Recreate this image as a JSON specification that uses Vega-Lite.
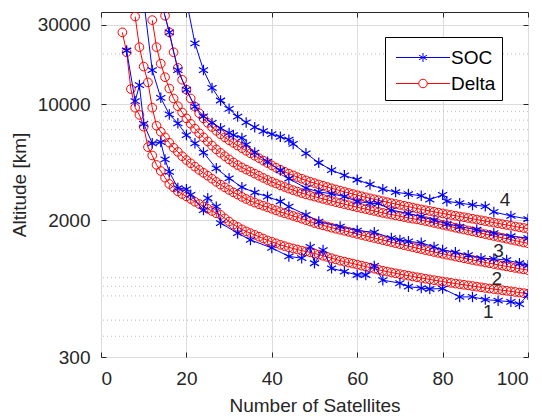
{
  "$schema": "https://vega.github.io/schema/vega-lite/v6.json",
  "width": 427,
  "height": 345,
  "autosize": "none",
  "padding": {"left": 101, "top": 12, "right": 14, "bottom": 62},
  "config": {
    "font": "Liberation Sans",
    "view": {"stroke": "#262626", "strokeWidth": 1},
    "axis": {
      "labelFont": "Liberation Sans",
      "labelFontSize": 19,
      "labelColor": "#262626",
      "titleFont": "Liberation Sans",
      "titleFontSize": 19,
      "titleFontWeight": "normal",
      "titleColor": "#262626",
      "domain": false,
      "tickColor": "#262626",
      "tickSize": -5,
      "gridColor": "#dcdcdc",
      "gridWidth": 1
    },
    "legend": {
      "orient": "none", "legendX": 284, "legendY": 25,
      "titleFontSize": 1, "titlePadding": 4,
      "fillColor": "#ffffff", "strokeColor": "#000000", "padding": 6,
      "symbolSize": 81, "symbolStrokeWidth": 1, "labelOffset": 41, "rowPadding": 6,
      "labelFont": "Liberation Sans", "labelFontSize": 19, "labelColor": "#000000",
      "symbolFillColor": "transparent"
    }
  },
  "datasets": {
    "minor": [
      {"v": 400}, {"v": 500}, {"v": 700}, {"v": 800}, {"v": 900},
      {"v": 3000}, {"v": 4000}, {"v": 5000}, {"v": 6000}, {"v": 7000}, {"v": 8000}, {"v": 9000}, {"v": 20000}
    ],
    "labels": [
      {"t": "1", "x": 90.7, "y": 563},
      {"t": "2", "x": 92.7, "y": 887},
      {"t": "3", "x": 93.1, "y": 1306},
      {"t": "4", "x": 94.6, "y": 2660}
    ],
    "pts": [
      {"m":"Delta","c":1,"x":5,"y":27000},{"m":"Delta","c":1,"x":6,"y":20500},{"m":"Delta","c":1,"x":7,"y":12300},{"m":"Delta","c":1,"x":8,"y":9500},{"m":"Delta","c":1,"x":9,"y":8600},{"m":"Delta","c":1,"x":10,"y":7300},{"m":"Delta","c":1,"x":11,"y":5500},{"m":"Delta","c":1,"x":12,"y":4900},{"m":"Delta","c":1,"x":13,"y":4300},{"m":"Delta","c":1,"x":14,"y":3950},{"m":"Delta","c":1,"x":15,"y":3600},{"m":"Delta","c":1,"x":16,"y":3300},{"m":"Delta","c":1,"x":17,"y":3150},{"m":"Delta","c":1,"x":18,"y":2980},{"m":"Delta","c":1,"x":19,"y":2870},{"m":"Delta","c":1,"x":20,"y":2780},{"m":"Delta","c":1,"x":21,"y":2680},{"m":"Delta","c":1,"x":22,"y":2580},{"m":"Delta","c":1,"x":23,"y":2500},{"m":"Delta","c":1,"x":24,"y":2420},{"m":"Delta","c":1,"x":25,"y":2340},{"m":"Delta","c":1,"x":26,"y":2270},{"m":"Delta","c":1,"x":27,"y":2200},{"m":"Delta","c":1,"x":28,"y":2150},{"m":"Delta","c":1,"x":29,"y":2050},{"m":"Delta","c":1,"x":30,"y":1960},{"m":"Delta","c":1,"x":31,"y":1880},{"m":"Delta","c":1,"x":32,"y":1820},{"m":"Delta","c":1,"x":33,"y":1760},{"m":"Delta","c":1,"x":34,"y":1710},{"m":"Delta","c":1,"x":35,"y":1670},{"m":"Delta","c":1,"x":36,"y":1630},{"m":"Delta","c":1,"x":37,"y":1590},{"m":"Delta","c":1,"x":38,"y":1550},{"m":"Delta","c":1,"x":39,"y":1510},{"m":"Delta","c":1,"x":40,"y":1480},{"m":"Delta","c":1,"x":41,"y":1450},{"m":"Delta","c":1,"x":42,"y":1420},{"m":"Delta","c":1,"x":43,"y":1395},{"m":"Delta","c":1,"x":44,"y":1370},{"m":"Delta","c":1,"x":45,"y":1350},{"m":"Delta","c":1,"x":46,"y":1330},{"m":"Delta","c":1,"x":47,"y":1310},{"m":"Delta","c":1,"x":48,"y":1295},{"m":"Delta","c":1,"x":49,"y":1280},{"m":"Delta","c":1,"x":50,"y":1260},{"m":"Delta","c":1,"x":51,"y":1240},{"m":"Delta","c":1,"x":52,"y":1220},{"m":"Delta","c":1,"x":53,"y":1200},{"m":"Delta","c":1,"x":54,"y":1180},{"m":"Delta","c":1,"x":55,"y":1160},{"m":"Delta","c":1,"x":56,"y":1140},{"m":"Delta","c":1,"x":57,"y":1125},{"m":"Delta","c":1,"x":58,"y":1110},{"m":"Delta","c":1,"x":59,"y":1095},{"m":"Delta","c":1,"x":60,"y":1080},{"m":"Delta","c":1,"x":61,"y":1065},{"m":"Delta","c":1,"x":62,"y":1050},{"m":"Delta","c":1,"x":63,"y":1035},{"m":"Delta","c":1,"x":64,"y":1020},{"m":"Delta","c":1,"x":65,"y":1005},{"m":"Delta","c":1,"x":66,"y":992},{"m":"Delta","c":1,"x":67,"y":980},{"m":"Delta","c":1,"x":68,"y":968},{"m":"Delta","c":1,"x":69,"y":957},{"m":"Delta","c":1,"x":70,"y":946},{"m":"Delta","c":1,"x":71,"y":936},{"m":"Delta","c":1,"x":72,"y":926},{"m":"Delta","c":1,"x":73,"y":916},{"m":"Delta","c":1,"x":74,"y":906},{"m":"Delta","c":1,"x":75,"y":897},{"m":"Delta","c":1,"x":76,"y":888},{"m":"Delta","c":1,"x":77,"y":879},{"m":"Delta","c":1,"x":78,"y":870},{"m":"Delta","c":1,"x":79,"y":862},{"m":"Delta","c":1,"x":80,"y":854},{"m":"Delta","c":1,"x":81,"y":846},{"m":"Delta","c":1,"x":82,"y":838},{"m":"Delta","c":1,"x":83,"y":830},{"m":"Delta","c":1,"x":84,"y":823},{"m":"Delta","c":1,"x":85,"y":816},{"m":"Delta","c":1,"x":86,"y":809},{"m":"Delta","c":1,"x":87,"y":802},{"m":"Delta","c":1,"x":88,"y":795},{"m":"Delta","c":1,"x":89,"y":788},{"m":"Delta","c":1,"x":90,"y":781},{"m":"Delta","c":1,"x":91,"y":775},{"m":"Delta","c":1,"x":92,"y":769},{"m":"Delta","c":1,"x":93,"y":763},{"m":"Delta","c":1,"x":94,"y":757},{"m":"Delta","c":1,"x":95,"y":751},{"m":"Delta","c":1,"x":96,"y":745},{"m":"Delta","c":1,"x":97,"y":739},{"m":"Delta","c":1,"x":98,"y":733},{"m":"Delta","c":1,"x":99,"y":727},{"m":"Delta","c":1,"x":100,"y":722},
      {"m":"Delta","c":2,"x":8,"y":33600},{"m":"Delta","c":2,"x":9,"y":22000},{"m":"Delta","c":2,"x":10,"y":16800},{"m":"Delta","c":2,"x":11,"y":13500},{"m":"Delta","c":2,"x":12,"y":9500},{"m":"Delta","c":2,"x":13,"y":7400},{"m":"Delta","c":2,"x":14,"y":6800},{"m":"Delta","c":2,"x":15,"y":6300},{"m":"Delta","c":2,"x":16,"y":5850},{"m":"Delta","c":2,"x":17,"y":5450},{"m":"Delta","c":2,"x":18,"y":5150},{"m":"Delta","c":2,"x":19,"y":4850},{"m":"Delta","c":2,"x":20,"y":4600},{"m":"Delta","c":2,"x":21,"y":4400},{"m":"Delta","c":2,"x":22,"y":4200},{"m":"Delta","c":2,"x":23,"y":4010},{"m":"Delta","c":2,"x":24,"y":3850},{"m":"Delta","c":2,"x":25,"y":3700},{"m":"Delta","c":2,"x":26,"y":3550},{"m":"Delta","c":2,"x":27,"y":3400},{"m":"Delta","c":2,"x":28,"y":3270},{"m":"Delta","c":2,"x":29,"y":3150},{"m":"Delta","c":2,"x":30,"y":3040},{"m":"Delta","c":2,"x":31,"y":2940},{"m":"Delta","c":2,"x":32,"y":2850},{"m":"Delta","c":2,"x":33,"y":2760},{"m":"Delta","c":2,"x":34,"y":2680},{"m":"Delta","c":2,"x":35,"y":2610},{"m":"Delta","c":2,"x":36,"y":2550},{"m":"Delta","c":2,"x":37,"y":2490},{"m":"Delta","c":2,"x":38,"y":2440},{"m":"Delta","c":2,"x":39,"y":2390},{"m":"Delta","c":2,"x":40,"y":2340},{"m":"Delta","c":2,"x":41,"y":2290},{"m":"Delta","c":2,"x":42,"y":2240},{"m":"Delta","c":2,"x":43,"y":2200},{"m":"Delta","c":2,"x":44,"y":2160},{"m":"Delta","c":2,"x":45,"y":2120},{"m":"Delta","c":2,"x":46,"y":2080},{"m":"Delta","c":2,"x":47,"y":2040},{"m":"Delta","c":2,"x":48,"y":2000},{"m":"Delta","c":2,"x":49,"y":1960},{"m":"Delta","c":2,"x":50,"y":1920},{"m":"Delta","c":2,"x":51,"y":1890},{"m":"Delta","c":2,"x":52,"y":1860},{"m":"Delta","c":2,"x":53,"y":1830},{"m":"Delta","c":2,"x":54,"y":1800},{"m":"Delta","c":2,"x":55,"y":1775},{"m":"Delta","c":2,"x":56,"y":1750},{"m":"Delta","c":2,"x":57,"y":1725},{"m":"Delta","c":2,"x":58,"y":1700},{"m":"Delta","c":2,"x":59,"y":1676},{"m":"Delta","c":2,"x":60,"y":1652},{"m":"Delta","c":2,"x":61,"y":1628},{"m":"Delta","c":2,"x":62,"y":1605},{"m":"Delta","c":2,"x":63,"y":1582},{"m":"Delta","c":2,"x":64,"y":1560},{"m":"Delta","c":2,"x":65,"y":1538},{"m":"Delta","c":2,"x":66,"y":1516},{"m":"Delta","c":2,"x":67,"y":1495},{"m":"Delta","c":2,"x":68,"y":1474},{"m":"Delta","c":2,"x":69,"y":1453},{"m":"Delta","c":2,"x":70,"y":1433},{"m":"Delta","c":2,"x":71,"y":1413},{"m":"Delta","c":2,"x":72,"y":1394},{"m":"Delta","c":2,"x":73,"y":1375},{"m":"Delta","c":2,"x":74,"y":1356},{"m":"Delta","c":2,"x":75,"y":1338},{"m":"Delta","c":2,"x":76,"y":1320},{"m":"Delta","c":2,"x":77,"y":1303},{"m":"Delta","c":2,"x":78,"y":1286},{"m":"Delta","c":2,"x":79,"y":1270},{"m":"Delta","c":2,"x":80,"y":1254},{"m":"Delta","c":2,"x":81,"y":1238},{"m":"Delta","c":2,"x":82,"y":1223},{"m":"Delta","c":2,"x":83,"y":1208},{"m":"Delta","c":2,"x":84,"y":1193},{"m":"Delta","c":2,"x":85,"y":1179},{"m":"Delta","c":2,"x":86,"y":1165},{"m":"Delta","c":2,"x":87,"y":1151},{"m":"Delta","c":2,"x":88,"y":1138},{"m":"Delta","c":2,"x":89,"y":1125},{"m":"Delta","c":2,"x":90,"y":1112},{"m":"Delta","c":2,"x":91,"y":1100},{"m":"Delta","c":2,"x":92,"y":1088},{"m":"Delta","c":2,"x":93,"y":1076},{"m":"Delta","c":2,"x":94,"y":1064},{"m":"Delta","c":2,"x":95,"y":1053},{"m":"Delta","c":2,"x":96,"y":1042},{"m":"Delta","c":2,"x":97,"y":1031},{"m":"Delta","c":2,"x":98,"y":1020},{"m":"Delta","c":2,"x":99,"y":1010},{"m":"Delta","c":2,"x":100,"y":1000},
      {"m":"Delta","c":3,"x":12,"y":32000},{"m":"Delta","c":3,"x":13,"y":22000},{"m":"Delta","c":3,"x":14,"y":17500},{"m":"Delta","c":3,"x":15,"y":14500},{"m":"Delta","c":3,"x":16,"y":12400},{"m":"Delta","c":3,"x":17,"y":10800},{"m":"Delta","c":3,"x":18,"y":9700},{"m":"Delta","c":3,"x":19,"y":8900},{"m":"Delta","c":3,"x":20,"y":8200},{"m":"Delta","c":3,"x":21,"y":7600},{"m":"Delta","c":3,"x":22,"y":7100},{"m":"Delta","c":3,"x":23,"y":6670},{"m":"Delta","c":3,"x":24,"y":6300},{"m":"Delta","c":3,"x":25,"y":5950},{"m":"Delta","c":3,"x":26,"y":5620},{"m":"Delta","c":3,"x":27,"y":5330},{"m":"Delta","c":3,"x":28,"y":5080},{"m":"Delta","c":3,"x":29,"y":4850},{"m":"Delta","c":3,"x":30,"y":4640},{"m":"Delta","c":3,"x":31,"y":4450},{"m":"Delta","c":3,"x":32,"y":4290},{"m":"Delta","c":3,"x":33,"y":4150},{"m":"Delta","c":3,"x":34,"y":4030},{"m":"Delta","c":3,"x":35,"y":3920},{"m":"Delta","c":3,"x":36,"y":3810},{"m":"Delta","c":3,"x":37,"y":3700},{"m":"Delta","c":3,"x":38,"y":3590},{"m":"Delta","c":3,"x":39,"y":3490},{"m":"Delta","c":3,"x":40,"y":3400},{"m":"Delta","c":3,"x":41,"y":3320},{"m":"Delta","c":3,"x":42,"y":3240},{"m":"Delta","c":3,"x":43,"y":3165},{"m":"Delta","c":3,"x":44,"y":3095},{"m":"Delta","c":3,"x":45,"y":3030},{"m":"Delta","c":3,"x":46,"y":2970},{"m":"Delta","c":3,"x":47,"y":2910},{"m":"Delta","c":3,"x":48,"y":2860},{"m":"Delta","c":3,"x":49,"y":2810},{"m":"Delta","c":3,"x":50,"y":2770},{"m":"Delta","c":3,"x":51,"y":2725},{"m":"Delta","c":3,"x":52,"y":2685},{"m":"Delta","c":3,"x":53,"y":2645},{"m":"Delta","c":3,"x":54,"y":2605},{"m":"Delta","c":3,"x":55,"y":2565},{"m":"Delta","c":3,"x":56,"y":2530},{"m":"Delta","c":3,"x":57,"y":2495},{"m":"Delta","c":3,"x":58,"y":2460},{"m":"Delta","c":3,"x":59,"y":2425},{"m":"Delta","c":3,"x":60,"y":2390},{"m":"Delta","c":3,"x":61,"y":2360},{"m":"Delta","c":3,"x":62,"y":2330},{"m":"Delta","c":3,"x":63,"y":2300},{"m":"Delta","c":3,"x":64,"y":2270},{"m":"Delta","c":3,"x":65,"y":2240},{"m":"Delta","c":3,"x":66,"y":2210},{"m":"Delta","c":3,"x":67,"y":2185},{"m":"Delta","c":3,"x":68,"y":2160},{"m":"Delta","c":3,"x":69,"y":2135},{"m":"Delta","c":3,"x":70,"y":2110},{"m":"Delta","c":3,"x":71,"y":2085},{"m":"Delta","c":3,"x":72,"y":2060},{"m":"Delta","c":3,"x":73,"y":2040},{"m":"Delta","c":3,"x":74,"y":2020},{"m":"Delta","c":3,"x":75,"y":2000},{"m":"Delta","c":3,"x":76,"y":1975},{"m":"Delta","c":3,"x":77,"y":1950},{"m":"Delta","c":3,"x":78,"y":1925},{"m":"Delta","c":3,"x":79,"y":1900},{"m":"Delta","c":3,"x":80,"y":1875},{"m":"Delta","c":3,"x":81,"y":1850},{"m":"Delta","c":3,"x":82,"y":1825},{"m":"Delta","c":3,"x":83,"y":1800},{"m":"Delta","c":3,"x":84,"y":1778},{"m":"Delta","c":3,"x":85,"y":1756},{"m":"Delta","c":3,"x":86,"y":1734},{"m":"Delta","c":3,"x":87,"y":1712},{"m":"Delta","c":3,"x":88,"y":1690},{"m":"Delta","c":3,"x":89,"y":1668},{"m":"Delta","c":3,"x":90,"y":1647},{"m":"Delta","c":3,"x":91,"y":1626},{"m":"Delta","c":3,"x":92,"y":1605},{"m":"Delta","c":3,"x":93,"y":1585},{"m":"Delta","c":3,"x":94,"y":1565},{"m":"Delta","c":3,"x":95,"y":1545},{"m":"Delta","c":3,"x":96,"y":1525},{"m":"Delta","c":3,"x":97,"y":1505},{"m":"Delta","c":3,"x":98,"y":1486},{"m":"Delta","c":3,"x":99,"y":1467},{"m":"Delta","c":3,"x":100,"y":1450},
      {"m":"Delta","c":4,"x":15,"y":34000},{"m":"Delta","c":4,"x":16,"y":27000},{"m":"Delta","c":4,"x":17,"y":20500},{"m":"Delta","c":4,"x":18,"y":16500},{"m":"Delta","c":4,"x":19,"y":14000},{"m":"Delta","c":4,"x":20,"y":12200},{"m":"Delta","c":4,"x":21,"y":10800},{"m":"Delta","c":4,"x":22,"y":9650},{"m":"Delta","c":4,"x":23,"y":8800},{"m":"Delta","c":4,"x":24,"y":8200},{"m":"Delta","c":4,"x":25,"y":7700},{"m":"Delta","c":4,"x":26,"y":7270},{"m":"Delta","c":4,"x":27,"y":6900},{"m":"Delta","c":4,"x":28,"y":6580},{"m":"Delta","c":4,"x":29,"y":6300},{"m":"Delta","c":4,"x":30,"y":6050},{"m":"Delta","c":4,"x":31,"y":5830},{"m":"Delta","c":4,"x":32,"y":5620},{"m":"Delta","c":4,"x":33,"y":5420},{"m":"Delta","c":4,"x":34,"y":5230},{"m":"Delta","c":4,"x":35,"y":5050},{"m":"Delta","c":4,"x":36,"y":4880},{"m":"Delta","c":4,"x":37,"y":4720},{"m":"Delta","c":4,"x":38,"y":4560},{"m":"Delta","c":4,"x":39,"y":4410},{"m":"Delta","c":4,"x":40,"y":4270},{"m":"Delta","c":4,"x":41,"y":4140},{"m":"Delta","c":4,"x":42,"y":4020},{"m":"Delta","c":4,"x":43,"y":3910},{"m":"Delta","c":4,"x":44,"y":3810},{"m":"Delta","c":4,"x":45,"y":3720},{"m":"Delta","c":4,"x":46,"y":3630},{"m":"Delta","c":4,"x":47,"y":3550},{"m":"Delta","c":4,"x":48,"y":3470},{"m":"Delta","c":4,"x":49,"y":3400},{"m":"Delta","c":4,"x":50,"y":3340},{"m":"Delta","c":4,"x":51,"y":3280},{"m":"Delta","c":4,"x":52,"y":3220},{"m":"Delta","c":4,"x":53,"y":3165},{"m":"Delta","c":4,"x":54,"y":3110},{"m":"Delta","c":4,"x":55,"y":3060},{"m":"Delta","c":4,"x":56,"y":3010},{"m":"Delta","c":4,"x":57,"y":2960},{"m":"Delta","c":4,"x":58,"y":2915},{"m":"Delta","c":4,"x":59,"y":2870},{"m":"Delta","c":4,"x":60,"y":2825},{"m":"Delta","c":4,"x":61,"y":2785},{"m":"Delta","c":4,"x":62,"y":2745},{"m":"Delta","c":4,"x":63,"y":2705},{"m":"Delta","c":4,"x":64,"y":2670},{"m":"Delta","c":4,"x":65,"y":2635},{"m":"Delta","c":4,"x":66,"y":2600},{"m":"Delta","c":4,"x":67,"y":2565},{"m":"Delta","c":4,"x":68,"y":2530},{"m":"Delta","c":4,"x":69,"y":2500},{"m":"Delta","c":4,"x":70,"y":2470},{"m":"Delta","c":4,"x":71,"y":2440},{"m":"Delta","c":4,"x":72,"y":2410},{"m":"Delta","c":4,"x":73,"y":2380},{"m":"Delta","c":4,"x":74,"y":2350},{"m":"Delta","c":4,"x":75,"y":2320},{"m":"Delta","c":4,"x":76,"y":2295},{"m":"Delta","c":4,"x":77,"y":2270},{"m":"Delta","c":4,"x":78,"y":2245},{"m":"Delta","c":4,"x":79,"y":2220},{"m":"Delta","c":4,"x":80,"y":2195},{"m":"Delta","c":4,"x":81,"y":2170},{"m":"Delta","c":4,"x":82,"y":2148},{"m":"Delta","c":4,"x":83,"y":2126},{"m":"Delta","c":4,"x":84,"y":2104},{"m":"Delta","c":4,"x":85,"y":2082},{"m":"Delta","c":4,"x":86,"y":2060},{"m":"Delta","c":4,"x":87,"y":2038},{"m":"Delta","c":4,"x":88,"y":2016},{"m":"Delta","c":4,"x":89,"y":1995},{"m":"Delta","c":4,"x":90,"y":1974},{"m":"Delta","c":4,"x":91,"y":1953},{"m":"Delta","c":4,"x":92,"y":1932},{"m":"Delta","c":4,"x":93,"y":1911},{"m":"Delta","c":4,"x":94,"y":1891},{"m":"Delta","c":4,"x":95,"y":1871},{"m":"Delta","c":4,"x":96,"y":1851},{"m":"Delta","c":4,"x":97,"y":1831},{"m":"Delta","c":4,"x":98,"y":1812},{"m":"Delta","c":4,"x":99,"y":1793},{"m":"Delta","c":4,"x":100,"y":1775},
      {"m":"SOC","c":1,"x":6,"y":21000},{"m":"SOC","c":1,"x":8,"y":10400},{"m":"SOC","c":1,"x":9,"y":13000},{"m":"SOC","c":1,"x":10,"y":7600},{"m":"SOC","c":1,"x":12,"y":5800},{"m":"SOC","c":1,"x":14,"y":5900},{"m":"SOC","c":1,"x":15,"y":4640},{"m":"SOC","c":1,"x":16,"y":3900},{"m":"SOC","c":1,"x":18,"y":3120},{"m":"SOC","c":1,"x":20,"y":3070},{"m":"SOC","c":1,"x":21,"y":2840},{"m":"SOC","c":1,"x":24,"y":2300},{"m":"SOC","c":1,"x":25,"y":2710},{"m":"SOC","c":1,"x":27,"y":2410},{"m":"SOC","c":1,"x":28,"y":1920},{"m":"SOC","c":1,"x":32,"y":1670},{"m":"SOC","c":1,"x":35,"y":1520},{"m":"SOC","c":1,"x":40,"y":1360},{"m":"SOC","c":1,"x":44,"y":1210},{"m":"SOC","c":1,"x":47,"y":1180},{"m":"SOC","c":1,"x":49,"y":1380},{"m":"SOC","c":1,"x":50,"y":1100},{"m":"SOC","c":1,"x":52,"y":1320},{"m":"SOC","c":1,"x":54,"y":1025},{"m":"SOC","c":1,"x":57,"y":980},{"m":"SOC","c":1,"x":60,"y":935},{"m":"SOC","c":1,"x":62,"y":935},{"m":"SOC","c":1,"x":64,"y":1060},{"m":"SOC","c":1,"x":66,"y":870},{"m":"SOC","c":1,"x":70,"y":835},{"m":"SOC","c":1,"x":72,"y":795},{"m":"SOC","c":1,"x":75,"y":780},{"m":"SOC","c":1,"x":77,"y":770},{"m":"SOC","c":1,"x":80,"y":775},{"m":"SOC","c":1,"x":84,"y":690},{"m":"SOC","c":1,"x":87,"y":690},{"m":"SOC","c":1,"x":90,"y":665},{"m":"SOC","c":1,"x":93,"y":655},{"m":"SOC","c":1,"x":96,"y":645},{"m":"SOC","c":1,"x":98,"y":625},{"m":"SOC","c":1,"x":100,"y":710},
      {"m":"SOC","c":2,"x":10,"y":42000},{"m":"SOC","c":2,"x":12,"y":16000},{"m":"SOC","c":2,"x":14,"y":10900},{"m":"SOC","c":2,"x":16,"y":8650},{"m":"SOC","c":2,"x":18,"y":7650},{"m":"SOC","c":2,"x":20,"y":6500},{"m":"SOC","c":2,"x":22,"y":5800},{"m":"SOC","c":2,"x":24,"y":5100},{"m":"SOC","c":2,"x":27,"y":4100},{"m":"SOC","c":2,"x":30,"y":3570},{"m":"SOC","c":2,"x":33,"y":3160},{"m":"SOC","c":2,"x":36,"y":2930},{"m":"SOC","c":2,"x":39,"y":2770},{"m":"SOC","c":2,"x":42,"y":2590},{"m":"SOC","c":2,"x":44,"y":2410},{"m":"SOC","c":2,"x":48,"y":2150},{"m":"SOC","c":2,"x":51,"y":1960},{"m":"SOC","c":2,"x":56,"y":1830},{"m":"SOC","c":2,"x":60,"y":1730},{"m":"SOC","c":2,"x":64,"y":1690},{"m":"SOC","c":2,"x":68,"y":1560},{"m":"SOC","c":2,"x":70,"y":1520},{"m":"SOC","c":2,"x":72,"y":1490},{"m":"SOC","c":2,"x":75,"y":1460},{"m":"SOC","c":2,"x":78,"y":1380},{"m":"SOC","c":2,"x":80,"y":1320},{"m":"SOC","c":2,"x":83,"y":1280},{"m":"SOC","c":2,"x":86,"y":1230},{"m":"SOC","c":2,"x":89,"y":1180},{"m":"SOC","c":2,"x":92,"y":1170},{"m":"SOC","c":2,"x":95,"y":1150},{"m":"SOC","c":2,"x":98,"y":1100},{"m":"SOC","c":2,"x":100,"y":1070},
      {"m":"SOC","c":3,"x":14,"y":42000},{"m":"SOC","c":3,"x":16,"y":27000},{"m":"SOC","c":3,"x":18,"y":16000},{"m":"SOC","c":3,"x":20,"y":12200},{"m":"SOC","c":3,"x":22,"y":9650},{"m":"SOC","c":3,"x":24,"y":8430},{"m":"SOC","c":3,"x":26,"y":7700},{"m":"SOC","c":3,"x":28,"y":7150},{"m":"SOC","c":3,"x":30,"y":6700},{"m":"SOC","c":3,"x":31,"y":6500},{"m":"SOC","c":3,"x":33,"y":6250},{"m":"SOC","c":3,"x":34,"y":5700},{"m":"SOC","c":3,"x":36,"y":5100},{"m":"SOC","c":3,"x":39,"y":4500},{"m":"SOC","c":3,"x":42,"y":3980},{"m":"SOC","c":3,"x":44,"y":3550},{"m":"SOC","c":3,"x":48,"y":3120},{"m":"SOC","c":3,"x":51,"y":2960},{"m":"SOC","c":3,"x":54,"y":2880},{"m":"SOC","c":3,"x":57,"y":2770},{"m":"SOC","c":3,"x":60,"y":2590},{"m":"SOC","c":3,"x":63,"y":2530},{"m":"SOC","c":3,"x":65,"y":2520},{"m":"SOC","c":3,"x":68,"y":2300},{"m":"SOC","c":3,"x":72,"y":2190},{"m":"SOC","c":3,"x":75,"y":2100},{"m":"SOC","c":3,"x":78,"y":2000},{"m":"SOC","c":3,"x":81,"y":1900},{"m":"SOC","c":3,"x":84,"y":1830},{"m":"SOC","c":3,"x":88,"y":1750},{"m":"SOC","c":3,"x":92,"y":1670},{"m":"SOC","c":3,"x":96,"y":1600},{"m":"SOC","c":3,"x":100,"y":1560},
      {"m":"SOC","c":4,"x":20,"y":42000},{"m":"SOC","c":4,"x":22,"y":23200},{"m":"SOC","c":4,"x":24,"y":16000},{"m":"SOC","c":4,"x":26,"y":12500},{"m":"SOC","c":4,"x":28,"y":10500},{"m":"SOC","c":4,"x":30,"y":9350},{"m":"SOC","c":4,"x":32,"y":8400},{"m":"SOC","c":4,"x":34,"y":7750},{"m":"SOC","c":4,"x":36,"y":7250},{"m":"SOC","c":4,"x":38,"y":6870},{"m":"SOC","c":4,"x":40,"y":6580},{"m":"SOC","c":4,"x":42,"y":6350},{"m":"SOC","c":4,"x":44,"y":6100},{"m":"SOC","c":4,"x":45,"y":5750},{"m":"SOC","c":4,"x":48,"y":5050},{"m":"SOC","c":4,"x":51,"y":4430},{"m":"SOC","c":4,"x":54,"y":4000},{"m":"SOC","c":4,"x":57,"y":3720},{"m":"SOC","c":4,"x":60,"y":3500},{"m":"SOC","c":4,"x":63,"y":3280},{"m":"SOC","c":4,"x":66,"y":3070},{"m":"SOC","c":4,"x":69,"y":2950},{"m":"SOC","c":4,"x":72,"y":2870},{"m":"SOC","c":4,"x":75,"y":2800},{"m":"SOC","c":4,"x":77,"y":2660},{"m":"SOC","c":4,"x":80,"y":2840},{"m":"SOC","c":4,"x":81,"y":2600},{"m":"SOC","c":4,"x":84,"y":2530},{"m":"SOC","c":4,"x":87,"y":2470},{"m":"SOC","c":4,"x":90,"y":2420},{"m":"SOC","c":4,"x":92,"y":2240},{"m":"SOC","c":4,"x":96,"y":2120},{"m":"SOC","c":4,"x":100,"y":2030}
    ]
  },
  "layer": [
    {
      "data": {"name": "minor"},
      "mark": {"type": "rule", "color": "#bdbdbd", "strokeWidth": 1, "strokeDash": [1, 3]},
      "encoding": {
        "y": {"field": "v", "type": "quantitative", "scale": {"type": "log", "domain": [300, 35800], "nice": false}, "axis": null}
      }
    },
    {
      "data": {"name": "pts"},
      "transform": [{"filter": "datum.m === 'Delta'"}],
      "mark": {"type": "line", "strokeWidth": 1, "clip": true},
      "encoding": {
        "x": {"field": "x", "type": "quantitative", "scale": {"domain": [0, 100], "nice": false, "zero": false},
          "axis": {"values": [0, 20, 40, 60, 80, 100], "grid": true, "title": "Number of Satellites", "labelPadding": 17, "titlePadding": 8}},
        "y": {"field": "y", "type": "quantitative", "scale": {"type": "log", "domain": [300, 35800], "nice": false},
          "axis": {"values": [300, 2000, 10000, 30000], "format": "d", "grid": true, "title": "Altitude [km]", "labelPadding": 16, "titlePadding": 8}},
        "detail": {"field": "c"},
        "color": {"field": "m", "type": "nominal", "title": " ", "scale": {"domain": ["SOC", "Delta"], "range": ["#0000ff", "#ff0000"]}}
      }
    },
    {
      "data": {"name": "pts"},
      "transform": [{"filter": "datum.m === 'Delta'"}],
      "mark": {"type": "point", "shape": "circle", "filled": false, "size": 75, "strokeWidth": 1, "opacity": 1, "clip": true},
      "encoding": {
        "x": {"field": "x", "type": "quantitative",
          "axis": {"orient": "top", "values": [0, 20, 40, 60, 80, 100], "labels": false, "grid": false, "title": null}},
        "y": {"field": "y", "type": "quantitative",
          "axis": {"orient": "right", "values": [300, 2000, 10000, 30000], "labels": false, "grid": false, "title": null}},
        "color": {"field": "m", "type": "nominal", "title": " "}
      }
    },
    {
      "data": {"name": "pts"},
      "transform": [{"filter": "datum.m === 'SOC'"}],
      "mark": {"type": "line", "strokeWidth": 1, "clip": true},
      "encoding": {
        "x": {"field": "x", "type": "quantitative", "axis": null},
        "y": {"field": "y", "type": "quantitative", "axis": null},
        "detail": {"field": "c"},
        "color": {"field": "m", "type": "nominal", "title": " "}
      }
    },
    {
      "data": {"name": "pts"},
      "transform": [{"filter": "datum.m === 'SOC'"}],
      "mark": {"type": "point", "shape": "M0,-1V1M-0.87,-0.5L0.87,0.5M-0.87,0.5L0.87,-0.5", "filled": false, "size": 110, "strokeWidth": 1.2, "opacity": 1, "clip": true},
      "encoding": {
        "x": {"field": "x", "type": "quantitative", "axis": null},
        "y": {"field": "y", "type": "quantitative", "axis": null},
        "color": {"field": "m", "type": "nominal", "title": " "}
      }
    },
    {
      "data": {"name": "pts"},
      "transform": [{"filter": "datum.x < 0"}],
      "mark": {"type": "point", "filled": false, "strokeWidth": 1, "opacity": 1},
      "encoding": {
        "x": {"field": "x", "type": "quantitative", "axis": null},
        "y": {"field": "y", "type": "quantitative", "axis": null},
        "color": {"field": "m", "type": "nominal", "title": " "},
        "shape": {"field": "m", "type": "nominal", "title": " ", "scale": {"domain": ["SOC", "Delta"], "range": ["M-1,0H11M5,-1V1M4.13,-0.5L5.87,0.5M4.13,0.5L5.87,-0.5", "M-1,0H4.05M5.95,0H11M4.05,0A0.95,0.95 0 1,0 5.95,0A0.95,0.95 0 1,0 4.05,0"]}}
      }
    },
    {
      "data": {"name": "labels"},
      "mark": {"type": "text", "fontSize": 19, "font": "Liberation Sans", "color": "#262626", "align": "center", "baseline": "middle"},
      "encoding": {
        "x": {"field": "x", "type": "quantitative", "axis": null},
        "y": {"field": "y", "type": "quantitative", "axis": null},
        "text": {"field": "t"}
      }
    }
  ],
  "resolve": {"axis": {"x": "independent", "y": "independent"}}
}
